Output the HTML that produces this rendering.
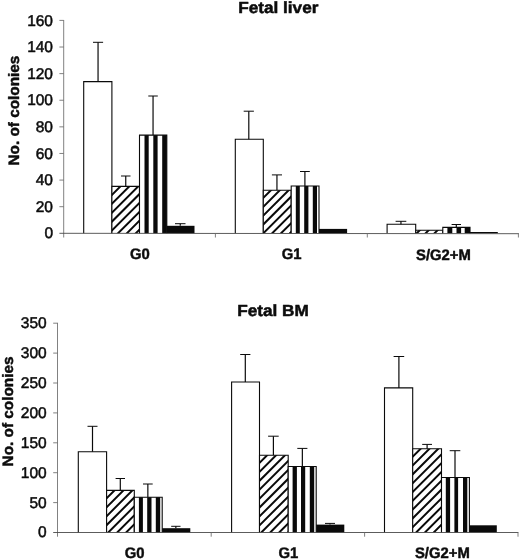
<!DOCTYPE html>
<html lang="en"><head><meta charset="utf-8"><title>Colony counts</title>
<style>
html,body{margin:0;padding:0;background:#fff;}
body{width:520px;height:560px;overflow:hidden;}
svg{display:block;will-change:transform;}
text{font-family:"Liberation Sans",sans-serif;fill:#0c0c0c;stroke:#0c0c0c;stroke-linejoin:round;text-rendering:geometricPrecision;}
.ttl{font-weight:bold;stroke-width:0.5px;}
.ylab{font-weight:bold;stroke-width:0.45px;}
.num{stroke-width:0.5px;}
.cat{font-weight:bold;stroke-width:0.45px;}
.ax{stroke:#6a6a6a;stroke-width:0.85;fill:none;}
.axx{stroke:#4a4a4a;stroke-width:0.9;fill:none;}
.bw{fill:#fff;stroke:#0a0a0a;stroke-width:1.1;}
.bb{fill:#0a0a0a;stroke:#0a0a0a;stroke-width:1.1;}
.bk{fill:#0a0a0a;stroke:none;}
.er{stroke:#0a0a0a;stroke-width:1;fill:none;}
.es{stroke:#0a0a0a;stroke-width:1.2;fill:none;}
.ht{stroke:#0a0a0a;stroke-width:2;fill:none;}
.bo{fill:none;stroke:#0a0a0a;stroke-width:1.1;}
</style></head><body>
<svg width="520" height="560" viewBox="0 0 520 560">
<rect width="520" height="560" fill="#fff"/>
<text class="ttl" text-anchor="middle" transform="translate(278.3,13.35) scale(1.0650,1)" style="font-size:16.15px">Fetal liver</text>
<text class="ylab" text-anchor="middle" transform="translate(18.8,110.6) rotate(-90) scale(1.0200,1)" style="font-size:15.04px">No. of colonies</text>
<text class="num" text-anchor="end" transform="translate(53,238.45) scale(1.0000,1)" style="font-size:15.5px">0</text>
<text class="num" text-anchor="end" transform="translate(53,211.84) scale(1.0000,1)" style="font-size:15.5px">20</text>
<text class="num" text-anchor="end" transform="translate(53,185.23) scale(1.0000,1)" style="font-size:15.5px">40</text>
<text class="num" text-anchor="end" transform="translate(53,158.61) scale(1.0000,1)" style="font-size:15.5px">60</text>
<text class="num" text-anchor="end" transform="translate(53,132) scale(1.0000,1)" style="font-size:15.5px">80</text>
<text class="num" text-anchor="end" transform="translate(53,105.39) scale(1.0000,1)" style="font-size:15.5px">100</text>
<text class="num" text-anchor="end" transform="translate(53,78.78) scale(1.0000,1)" style="font-size:15.5px">120</text>
<text class="num" text-anchor="end" transform="translate(53,52.17) scale(1.0000,1)" style="font-size:15.5px">140</text>
<text class="num" text-anchor="end" transform="translate(53,25.55) scale(1.0000,1)" style="font-size:15.5px">160</text>
<text class="cat" text-anchor="middle" transform="translate(139.85,259.35) scale(0.9770,1)" style="font-size:15.2px">G0</text>
<text class="cat" text-anchor="middle" transform="translate(291.55,259.35) scale(0.9770,1)" style="font-size:15.2px">G1</text>
<text class="cat" text-anchor="middle" transform="translate(443.4,259.95) scale(0.9770,1)" style="font-size:15.2px">S/G2+M</text>
<path d="M83.7,233.3V81.6H111.9V233.3" class="bw"/>
<line x1="98.05" y1="42.3" x2="98.05" y2="81.6" class="es"/>
<line x1="93" y1="42.3" x2="103.1" y2="42.3" class="er"/>
<clipPath id="c11"><rect x="111.9" y="186.4" width="27.6" height="46.9"/></clipPath>
<rect x="111.9" y="186.4" width="27.6" height="46.9" fill="#fff"/>
<path d="M109.9,179.1L141.5,147.5M109.9,188L141.5,156.4M109.9,196.9L141.5,165.3M109.9,205.8L141.5,174.2M109.9,214.7L141.5,183.1M109.9,223.6L141.5,192M109.9,232.5L141.5,200.9M109.9,241.4L141.5,209.8M109.9,250.3L141.5,218.7M109.9,259.2L141.5,227.6M109.9,268.1L141.5,236.5M109.9,277L141.5,245.4" class="ht" clip-path="url(#c11)"/>
<path d="M111.9,233.3V186.4H139.5V233.3" class="bo"/>
<line x1="125.75" y1="176" x2="125.75" y2="186.4" class="es"/>
<line x1="121" y1="176" x2="130.5" y2="176" class="er"/>
<rect x="139.5" y="135.1" width="27.3" height="98.2" fill="#fff"/>
<rect x="144.5" y="135.1" width="4.2" height="98.2" class="bk"/>
<rect x="153.3" y="135.1" width="4.3" height="98.2" class="bk"/>
<rect x="162.2" y="135.1" width="4.6" height="98.2" class="bk"/>
<path d="M139.5,233.3V135.1H166.8V233.3" class="bo"/>
<line x1="153.05" y1="96" x2="153.05" y2="135.1" class="es"/>
<line x1="148.3" y1="96" x2="157.8" y2="96" class="er"/>
<rect x="166.8" y="225.8" width="27.7" height="7.5" class="bk"/>
<line x1="180.25" y1="223.7" x2="180.25" y2="225.8" class="es"/>
<line x1="175" y1="223.7" x2="185.5" y2="223.7" class="er"/>
<path d="M235.3,233.3V139.3H263.3V233.3" class="bw"/>
<line x1="248.8" y1="111.2" x2="248.8" y2="139.3" class="es"/>
<line x1="243.7" y1="111.2" x2="253.9" y2="111.2" class="er"/>
<clipPath id="c15"><rect x="263.3" y="190.2" width="27.9" height="43.1"/></clipPath>
<rect x="263.3" y="190.2" width="27.9" height="43.1" fill="#fff"/>
<path d="M261.3,182.2L293.2,150.3M261.3,191.05L293.2,159.15M261.3,199.9L293.2,168M261.3,208.75L293.2,176.85M261.3,217.6L293.2,185.7M261.3,226.45L293.2,194.55M261.3,235.3L293.2,203.4M261.3,244.15L293.2,212.25M261.3,253L293.2,221.1M261.3,261.85L293.2,229.95M261.3,270.7L293.2,238.8M261.3,279.55L293.2,247.65" class="ht" clip-path="url(#c15)"/>
<path d="M263.3,233.3V190.2H291.2V233.3" class="bo"/>
<line x1="276.95" y1="174.9" x2="276.95" y2="190.2" class="es"/>
<line x1="271.9" y1="174.9" x2="282" y2="174.9" class="er"/>
<rect x="291.2" y="186" width="27.8" height="47.3" fill="#fff"/>
<rect x="295.8" y="186" width="4" height="47.3" class="bk"/>
<rect x="304.2" y="186" width="4.2" height="47.3" class="bk"/>
<rect x="312.8" y="186" width="4.2" height="47.3" class="bk"/>
<path d="M291.2,233.3V186H319V233.3" class="bo"/>
<line x1="304.9" y1="171.5" x2="304.9" y2="186" class="es"/>
<line x1="300" y1="171.5" x2="309.8" y2="171.5" class="er"/>
<rect x="319" y="228.9" width="28.1" height="4.4" class="bk"/>
<path d="M387.1,233.3V224.2H415.7V233.3" class="bw"/>
<line x1="400.95" y1="221.3" x2="400.95" y2="224.2" class="es"/>
<line x1="395.6" y1="221.3" x2="406.3" y2="221.3" class="er"/>
<clipPath id="c19"><rect x="415.7" y="230.2" width="27.1" height="3.1"/></clipPath>
<rect x="415.7" y="230.2" width="27.1" height="3.1" fill="#fff"/>
<path d="M413.7,218.5L444.8,187.4M413.7,227.4L444.8,196.3M413.7,236.3L444.8,205.2M413.7,245.2L444.8,214.1M413.7,254.1L444.8,223M413.7,263L444.8,231.9M413.7,271.9L444.8,240.8" class="ht" clip-path="url(#c19)"/>
<path d="M415.7,233.3V230.2H442.8V233.3" class="bo"/>
<rect x="442.8" y="227.4" width="27.2" height="5.9" fill="#fff"/>
<rect x="447.4" y="227.4" width="4.9" height="5.9" class="bk"/>
<rect x="456.5" y="227.4" width="4.6" height="5.9" class="bk"/>
<rect x="464.7" y="227.4" width="5.3" height="5.9" class="bk"/>
<path d="M442.8,233.3V227.4H470V233.3" class="bo"/>
<line x1="456.3" y1="224.5" x2="456.3" y2="227.4" class="es"/>
<line x1="451.6" y1="224.5" x2="461" y2="224.5" class="er"/>
<rect x="470" y="232" width="27.8" height="1.3" class="bk"/>
<line x1="63.7" y1="20" x2="63.7" y2="237.5" class="ax"/>
<line x1="59.4" y1="233.3" x2="518.8" y2="233.7" class="axx"/>
<line x1="59.4" y1="206.69" x2="63.7" y2="206.69" class="ax"/>
<line x1="59.4" y1="180.08" x2="63.7" y2="180.08" class="ax"/>
<line x1="59.4" y1="153.46" x2="63.7" y2="153.46" class="ax"/>
<line x1="59.4" y1="126.85" x2="63.7" y2="126.85" class="ax"/>
<line x1="59.4" y1="100.24" x2="63.7" y2="100.24" class="ax"/>
<line x1="59.4" y1="73.63" x2="63.7" y2="73.63" class="ax"/>
<line x1="59.4" y1="47.02" x2="63.7" y2="47.02" class="ax"/>
<line x1="59.4" y1="20.4" x2="63.7" y2="20.4" class="ax"/>
<line x1="215.4" y1="233.3" x2="215.4" y2="237.5" class="ax"/>
<line x1="367.3" y1="233.3" x2="367.3" y2="237.5" class="ax"/>
<line x1="518.4" y1="233.3" x2="518.4" y2="237.5" class="ax"/>
<text class="ttl" text-anchor="middle" transform="translate(273.03,316.25) scale(1.0650,1)" style="font-size:16.15px">Fetal BM</text>
<text class="ylab" text-anchor="middle" transform="translate(12.65,411.45) rotate(-90) scale(1.0200,1)" style="font-size:15.04px">No. of colonies</text>
<text class="num" text-anchor="end" transform="translate(46.65,537.4) scale(1.0000,1)" style="font-size:15.5px">0</text>
<text class="num" text-anchor="end" transform="translate(46.65,507.5) scale(1.0000,1)" style="font-size:15.5px">50</text>
<text class="num" text-anchor="end" transform="translate(46.65,477.6) scale(1.0000,1)" style="font-size:15.5px">100</text>
<text class="num" text-anchor="end" transform="translate(46.65,447.7) scale(1.0000,1)" style="font-size:15.5px">150</text>
<text class="num" text-anchor="end" transform="translate(46.65,417.8) scale(1.0000,1)" style="font-size:15.5px">200</text>
<text class="num" text-anchor="end" transform="translate(46.65,387.9) scale(1.0000,1)" style="font-size:15.5px">250</text>
<text class="num" text-anchor="end" transform="translate(46.65,358) scale(1.0000,1)" style="font-size:15.5px">300</text>
<text class="num" text-anchor="end" transform="translate(46.65,328.1) scale(1.0000,1)" style="font-size:15.5px">350</text>
<text class="cat" text-anchor="middle" transform="translate(134.7,558.45) scale(0.9770,1)" style="font-size:15.2px">G0</text>
<text class="cat" text-anchor="middle" transform="translate(288.4,558.45) scale(0.9770,1)" style="font-size:15.2px">G1</text>
<text class="cat" text-anchor="middle" transform="translate(442.32,557.9) scale(0.9770,1)" style="font-size:15.2px">S/G2+M</text>
<path d="M78.3,532.5V451.7H106.6V532.5" class="bw"/>
<line x1="92.5" y1="426.3" x2="92.5" y2="451.7" class="es"/>
<line x1="87.5" y1="426.3" x2="97.5" y2="426.3" class="er"/>
<clipPath id="c21"><rect x="106.6" y="490.4" width="27.7" height="42.1"/></clipPath>
<rect x="106.6" y="490.4" width="27.7" height="42.1" fill="#fff"/>
<path d="M104.6,482.4L136.3,450.7M104.6,491.35L136.3,459.65M104.6,500.3L136.3,468.6M104.6,509.25L136.3,477.55M104.6,518.2L136.3,486.5M104.6,527.15L136.3,495.45M104.6,536.1L136.3,504.4M104.6,545.05L136.3,513.35M104.6,554L136.3,522.3M104.6,562.95L136.3,531.25M104.6,571.9L136.3,540.2" class="ht" clip-path="url(#c21)"/>
<path d="M106.6,532.5V490.4H134.3V532.5" class="bo"/>
<line x1="120.3" y1="478.5" x2="120.3" y2="490.4" class="es"/>
<line x1="115.6" y1="478.5" x2="125" y2="478.5" class="er"/>
<rect x="134.3" y="497.2" width="27.9" height="35.3" fill="#fff"/>
<rect x="138.9" y="497.2" width="4" height="35.3" class="bk"/>
<rect x="147.2" y="497.2" width="4.3" height="35.3" class="bk"/>
<rect x="155.8" y="497.2" width="4.4" height="35.3" class="bk"/>
<path d="M134.3,532.5V497.2H162.2V532.5" class="bo"/>
<line x1="147.85" y1="484" x2="147.85" y2="497.2" class="es"/>
<line x1="143" y1="484" x2="152.7" y2="484" class="er"/>
<rect x="162.2" y="528.2" width="28.1" height="4.3" class="bk"/>
<line x1="175.85" y1="526.3" x2="175.85" y2="528.2" class="es"/>
<line x1="171.2" y1="526.3" x2="180.5" y2="526.3" class="er"/>
<path d="M231.6,532.5V382H259.5V532.5" class="bw"/>
<line x1="245.3" y1="354.5" x2="245.3" y2="382" class="es"/>
<line x1="240.2" y1="354.5" x2="250.4" y2="354.5" class="er"/>
<clipPath id="c25"><rect x="259.5" y="455.2" width="28.7" height="77.3"/></clipPath>
<rect x="259.5" y="455.2" width="28.7" height="77.3" fill="#fff"/>
<path d="M257.5,447.06L290.2,414.36M257.5,455.98L290.2,423.28M257.5,464.9L290.2,432.2M257.5,473.82L290.2,441.12M257.5,482.74L290.2,450.04M257.5,491.66L290.2,458.96M257.5,500.58L290.2,467.88M257.5,509.5L290.2,476.8M257.5,518.42L290.2,485.72M257.5,527.34L290.2,494.64M257.5,536.26L290.2,503.56M257.5,545.18L290.2,512.48M257.5,554.1L290.2,521.4M257.5,563.02L290.2,530.32M257.5,571.94L290.2,539.24M257.5,580.86L290.2,548.16" class="ht" clip-path="url(#c25)"/>
<path d="M259.5,532.5V455.2H288.2V532.5" class="bo"/>
<line x1="273.4" y1="436.2" x2="273.4" y2="455.2" class="es"/>
<line x1="268.1" y1="436.2" x2="278.7" y2="436.2" class="er"/>
<rect x="288.2" y="466.5" width="28" height="66" fill="#fff"/>
<rect x="292.6" y="466.5" width="4.3" height="66" class="bk"/>
<rect x="301" y="466.5" width="4.2" height="66" class="bk"/>
<rect x="309.8" y="466.5" width="4.4" height="66" class="bk"/>
<path d="M288.2,532.5V466.5H316.2V532.5" class="bo"/>
<line x1="302.35" y1="448.4" x2="302.35" y2="466.5" class="es"/>
<line x1="297.3" y1="448.4" x2="307.4" y2="448.4" class="er"/>
<rect x="316.2" y="524.6" width="28.1" height="7.9" class="bk"/>
<line x1="330" y1="523.4" x2="330" y2="524.6" class="es"/>
<line x1="325" y1="523.4" x2="335" y2="523.4" class="er"/>
<path d="M384.5,532.5V387.9H412.7V532.5" class="bw"/>
<line x1="398.9" y1="356.5" x2="398.9" y2="387.9" class="es"/>
<line x1="393.6" y1="356.5" x2="404.2" y2="356.5" class="er"/>
<clipPath id="c29"><rect x="412.7" y="448.7" width="28.8" height="83.8"/></clipPath>
<rect x="412.7" y="448.7" width="28.8" height="83.8" fill="#fff"/>
<path d="M410.7,441.1L443.5,408.3M410.7,449.9L443.5,417.1M410.7,458.7L443.5,425.9M410.7,467.5L443.5,434.7M410.7,476.3L443.5,443.5M410.7,485.1L443.5,452.3M410.7,493.9L443.5,461.1M410.7,502.7L443.5,469.9M410.7,511.5L443.5,478.7M410.7,520.3L443.5,487.5M410.7,529.1L443.5,496.3M410.7,537.9L443.5,505.1M410.7,546.7L443.5,513.9M410.7,555.5L443.5,522.7M410.7,564.3L443.5,531.5M410.7,573.1L443.5,540.3" class="ht" clip-path="url(#c29)"/>
<path d="M412.7,532.5V448.7H441.5V532.5" class="bo"/>
<line x1="427.1" y1="444.4" x2="427.1" y2="448.7" class="es"/>
<line x1="422.2" y1="444.4" x2="432" y2="444.4" class="er"/>
<rect x="441.5" y="477.5" width="27.9" height="55" fill="#fff"/>
<rect x="445.8" y="477.5" width="4.3" height="55" class="bk"/>
<rect x="454.4" y="477.5" width="3.7" height="55" class="bk"/>
<rect x="463" y="477.5" width="4.3" height="55" class="bk"/>
<path d="M441.5,532.5V477.5H469.4V532.5" class="bo"/>
<line x1="455" y1="450.7" x2="455" y2="477.5" class="es"/>
<line x1="449.7" y1="450.7" x2="460.3" y2="450.7" class="er"/>
<rect x="469.4" y="525.3" width="27.4" height="7.2" class="bk"/>
<line x1="57.5" y1="322.8" x2="57.5" y2="536.7" class="ax"/>
<line x1="53.2" y1="532.5" x2="518.4" y2="532.5" class="axx"/>
<line x1="53.2" y1="502.6" x2="57.5" y2="502.6" class="ax"/>
<line x1="53.2" y1="472.7" x2="57.5" y2="472.7" class="ax"/>
<line x1="53.2" y1="442.8" x2="57.5" y2="442.8" class="ax"/>
<line x1="53.2" y1="412.9" x2="57.5" y2="412.9" class="ax"/>
<line x1="53.2" y1="383" x2="57.5" y2="383" class="ax"/>
<line x1="53.2" y1="353.1" x2="57.5" y2="353.1" class="ax"/>
<line x1="53.2" y1="323.2" x2="57.5" y2="323.2" class="ax"/>
<line x1="211.2" y1="532.5" x2="211.2" y2="536.7" class="ax"/>
<line x1="364.6" y1="532.5" x2="364.6" y2="536.7" class="ax"/>
<line x1="518" y1="532.5" x2="518" y2="536.7" class="ax"/>
</svg></body></html>
